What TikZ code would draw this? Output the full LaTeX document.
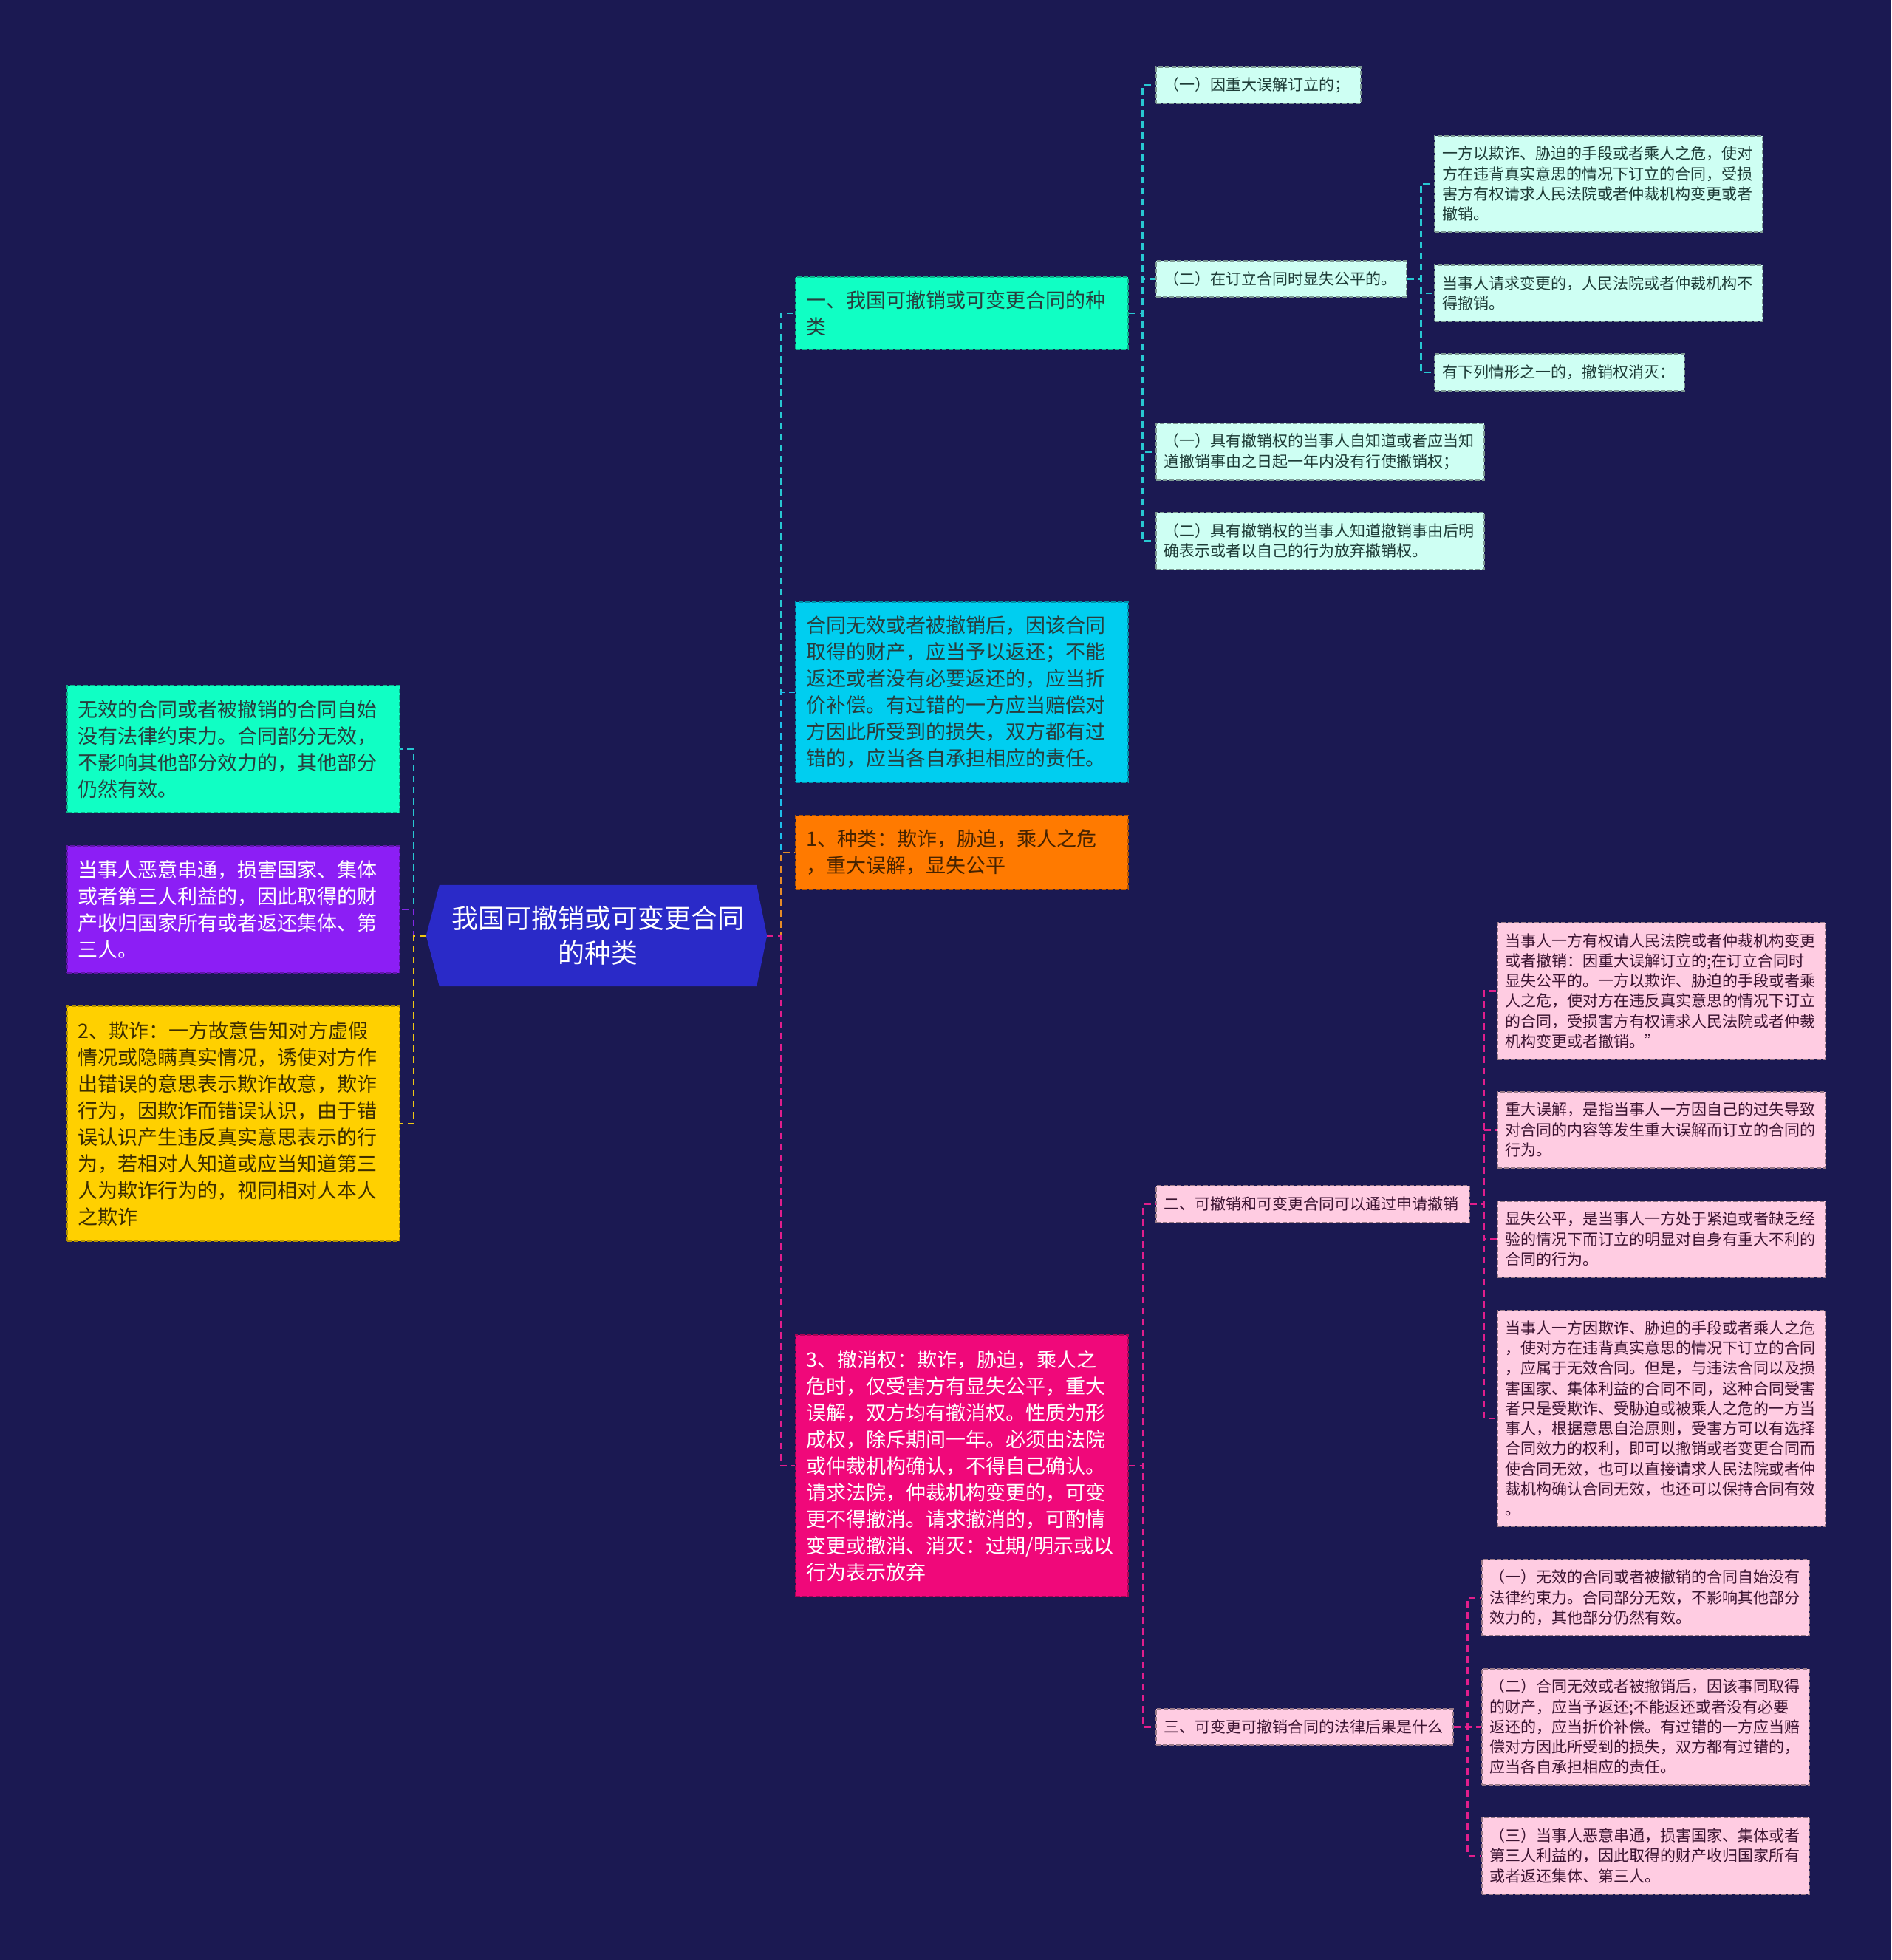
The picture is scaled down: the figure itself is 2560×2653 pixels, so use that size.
\documentclass[tikz,border=0pt]{standalone}
\usepackage{fontspec}
\setmainfont{Noto Sans CJK SC}
\usetikzlibrary{backgrounds}
\definecolor{bg}{RGB}{27,25,82}
\definecolor{rootblue}{RGB}{42,42,200}
\definecolor{tealF}{RGB}{16,255,196}
\definecolor{purpF}{RGB}{140,30,245}
\definecolor{yellF}{RGB}{255,208,0}
\definecolor{cyanF}{RGB}{0,206,240}
\definecolor{oranF}{RGB}{255,122,0}
\definecolor{pinkF}{RGB}{240,8,122}
\definecolor{mintF}{RGB}{206,255,243}
\definecolor{lpinkF}{RGB}{255,204,226}
\definecolor{txTeal}{RGB}{40,62,62}
\definecolor{txYell}{RGB}{60,45,0}
\definecolor{txOran}{RGB}{70,35,0}
\definecolor{txMint}{RGB}{30,60,55}
\definecolor{txPink}{RGB}{60,20,50}
\definecolor{lTeal}{RGB}{40,200,210}
\definecolor{lPurp}{RGB}{130,40,230}
\definecolor{lYell}{RGB}{240,200,20}
\definecolor{lCyan}{RGB}{30,190,235}
\definecolor{lOran}{RGB}{230,140,40}
\definecolor{lPink}{RGB}{225,30,140}
\tikzset{
  boxbase/.style={rectangle, anchor=north west, align=left, inner ysep=0pt,
    dash pattern=on 6pt off 3pt, line width=1.5pt},
  bigbox/.style={boxbase, inner xsep=15pt, font=\fontsize{27}{36}\selectfont},
  smallbox/.style={boxbase, inner xsep=11pt, font=\fontsize{21}{27.3}\selectfont},
  mintbox/.style={smallbox, fill=mintF, draw=mintF!60!black, text=txMint},
  pinkbox/.style={smallbox, fill=lpinkF, draw=lpinkF!60!black, text=txPink},
  link/.style={line width=2.5pt, dash pattern=on 9pt off 6pt},
}
\begin{document}
\begin{tikzpicture}[x=1pt,y=-1pt]
\useasboundingbox (0,0) rectangle (2560,2653);

% root
\node[minimum width=429pt, minimum height=137pt, inner sep=0pt, text=white,
  font=\fontsize{36}{47}\selectfont, align=center] (root) at (809.5,1266.5)
  {我国可撤销或可变更合同\\的种类};
\coordinate (rootL) at ([xshift=-18pt]root.west);
\coordinate (rootR) at ([xshift=14pt]root.east);
\begin{scope}[on background layer]
\fill[bg] (0,0) rectangle (2560,2653);
\fill[rootblue] (root.north west) -- (root.north east) -- (rootR) -- (root.south east)
  -- (root.south west) -- (rootL) -- cycle;
\end{scope}

% left nodes
\node[bigbox, fill=tealF, draw=tealF!70!black, text=txTeal, text width=420pt, minimum height=172pt] (L1) at (90,927)
  {无效的合同或者被撤销的合同自始\\没有法律约束力。合同部分无效，\\不影响其他部分效力的，其他部分\\仍然有效。};
\node[bigbox, fill=purpF, draw=purpF!70!black, text=white, text width=420pt, minimum height=172pt] (L2) at (90,1144)
  {当事人恶意串通，损害国家、集体\\或者第三人利益的，因此取得的财\\产收归国家所有或者返还集体、第\\三人。};
\node[bigbox, fill=yellF, draw=yellF!70!black, text=txYell, text width=420pt, minimum height=318pt] (L3) at (90,1361)
  {2、欺诈：一方故意告知对方虚假\\情况或隐瞒真实情况，诱使对方作\\出错误的意思表示欺诈故意，欺诈\\行为，因欺诈而错误认识，由于错\\误认识产生违反真实意思表示的行\\为，若相对人知道或应当知道第三\\人为欺诈行为的，视同相对人本人\\之欺诈};

% right first level
\node[bigbox, fill=tealF, draw=tealF!70!black, text=txTeal, text width=420pt, minimum height=98pt] (R1) at (1076,374)
  {一、我国可撤销或可变更合同的种\\类};
\node[bigbox, fill=cyanF, draw=cyanF!70!black, text=txTeal, text width=420pt, minimum height=244pt] (R2) at (1076,814)
  {合同无效或者被撤销后，因该合同\\取得的财产，应当予以返还；不能\\返还或者没有必要返还的，应当折\\价补偿。有过错的一方应当赔偿对\\方因此所受到的损失，双方都有过\\错的，应当各自承担相应的责任。};
\node[bigbox, fill=oranF, draw=oranF!70!black, text=txOran, text width=420pt, minimum height=100pt] (R3) at (1076,1103)
  {1、种类：欺诈，胁迫，乘人之危\\，重大误解，显失公平};
\node[bigbox, fill=pinkF, draw=pinkF!70!black, text=white, text width=420pt, minimum height=354pt] (R4) at (1076,1806)
  {3、撤消权：欺诈，胁迫，乘人之\\危时，仅受害方有显失公平，重大\\误解，双方均有撤消权。性质为形\\成权，除斥期间一年。必须由法院\\或仲裁机构确认，不得自己确认。\\请求法院，仲裁机构变更的，可变\\更不得撤消。请求撤消的，可酌情\\变更或撤消、消灭：过期/明示或以\\行为表示放弃};

% R1 children
\node[mintbox, text width=255pt, minimum height=49pt] (A1) at (1564,90) {（一）因重大误解订立的；};
\node[mintbox, text width=317pt, minimum height=49pt] (A2) at (1564,352) {（二）在订立合同时显失公平的。};
\node[mintbox, text width=422pt, minimum height=77pt] (A3) at (1564,572)
  {（一）具有撤销权的当事人自知道或者应当知\\道撤销事由之日起一年内没有行使撤销权；};
\node[mintbox, text width=422pt, minimum height=77pt] (A4) at (1564,693)
  {（二）具有撤销权的当事人知道撤销事由后明\\确表示或者以自己的行为放弃撤销权。};

% A2 children
\node[mintbox, text width=422pt, minimum height=130pt] (B1) at (1941,183)
  {一方以欺诈、胁迫的手段或者乘人之危，使对\\方在违背真实意思的情况下订立的合同，受损\\害方有权请求人民法院或者仲裁机构变更或者\\撤销。};
\node[mintbox, text width=422pt, minimum height=76pt] (B2) at (1941,358)
  {当事人请求变更的，人民法院或者仲裁机构不\\得撤销。};
\node[mintbox, text width=316pt, minimum height=50pt] (B3) at (1941,478)
  {有下列情形之一的，撤销权消灭：};

% R4 children
\node[pinkbox, text width=402pt, minimum height=50pt] (C1) at (1564,1604) {二、可撤销和可变更合同可以通过申请撤销};
\node[pinkbox, text width=380pt, minimum height=49pt] (C2) at (1564,2312) {三、可变更可撤销合同的法律后果是什么};

% C1 children
\node[pinkbox, text width=422pt, minimum height=185pt] (D1) at (2026,1248)
  {当事人一方有权请人民法院或者仲裁机构变更\\或者撤销：因重大误解订立的;在订立合同时\\显失公平的。一方以欺诈、胁迫的手段或者乘\\人之危，使对方在违反真实意思的情况下订立\\的合同，受损害方有权请求人民法院或者仲裁\\机构变更或者撤销。”};
\node[pinkbox, text width=422pt, minimum height=103pt] (D2) at (2026,1477)
  {重大误解，是指当事人一方因自己的过失导致\\对合同的内容等发生重大误解而订立的合同的\\行为。};
\node[pinkbox, text width=422pt, minimum height=103pt] (D3) at (2026,1625)
  {显失公平，是当事人一方处于紧迫或者缺乏经\\验的情况下而订立的明显对自身有重大不利的\\合同的行为。};
\node[pinkbox, text width=422pt, minimum height=292pt] (D4) at (2026,1773)
  {当事人一方因欺诈、胁迫的手段或者乘人之危\\，使对方在违背真实意思的情况下订立的合同\\，应属于无效合同。但是，与违法合同以及损\\害国家、集体利益的合同不同，这种合同受害\\者只是受欺诈、受胁迫或被乘人之危的一方当\\事人，根据意思自治原则，受害方可以有选择\\合同效力的权利，即可以撤销或者变更合同而\\使合同无效，也可以直接请求人民法院或者仲\\裁机构确认合同无效，也还可以保持合同有效\\。};

% C2 children
\node[pinkbox, text width=421pt, minimum height=103pt] (E1) at (2005,2110)
  {（一）无效的合同或者被撤销的合同自始没有\\法律约束力。合同部分无效，不影响其他部分\\效力的，其他部分仍然有效。};
\node[pinkbox, text width=421pt, minimum height=157pt] (E2) at (2005,2258)
  {（二）合同无效或者被撤销后，因该事同取得\\的财产，应当予返还;不能返还或者没有必要\\返还的，应当折价补偿。有过错的一方应当赔\\偿对方因此所受到的损失，双方都有过错的，\\应当各自承担相应的责任。};
\node[pinkbox, text width=421pt, minimum height=104pt] (E3) at (2005,2459)
  {（三）当事人恶意串通，损害国家、集体或者\\第三人利益的，因此取得的财产收归国家所有\\或者返还集体、第三人。};

% connectors: root left
\draw[link, lTeal] (rootL) -- ++(-17,0) |- (L1.east);
\draw[link, lPurp] (rootL) -- ++(-17,0) |- (L2.east);
\draw[link, lYell] (rootL) -- ++(-17,0) |- (L3.east);
% root right
\draw[link, lTeal] (rootR) -- ++(19,0) |- (R1.west);
\draw[link, lCyan] (rootR) -- ++(19,0) |- (R2.west);
\draw[link, lOran] (rootR) -- ++(19,0) |- (R3.west);
\draw[link, lPink] (rootR) -- ++(19,0) |- (R4.west);
% R1 -> A
\foreach \n in {A1,A2,A3,A4}
  \draw[link, lTeal] (R1.east) -- ++(19,0) |- (\n.west);
% A2 -> B
\foreach \n in {B1,B2,B3}
  \draw[link, lTeal] (A2.east) -- ++(19,0) |- (\n.west);
% R4 -> C
\foreach \n in {C1,C2}
  \draw[link, lPink] (R4.east) -- ++(20,0) |- (\n.west);
% C1 -> D
\foreach \n in {D1,D2,D3,D4}
  \draw[link, lPink] (C1.east) -- ++(19,0) |- (\n.west);
% C2 -> E
\foreach \n in {E1,E2,E3}
  \draw[link, lPink] (C2.east) -- ++(19,0) |- (\n.west);
\end{tikzpicture}
\end{document}
